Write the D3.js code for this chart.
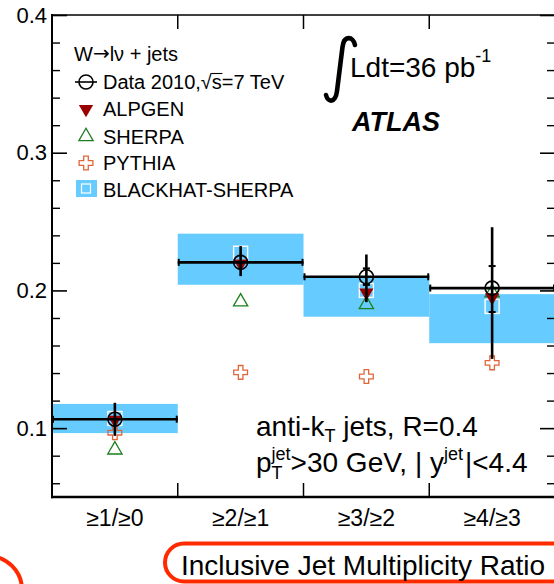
<!DOCTYPE html>
<html>
<head>
<meta charset="utf-8">
<script src="https://cdn.jsdelivr.net/npm/d3@7"></script>
<style>
  body { margin: 0; background: #fff; }
  svg { display: block; }
  text { font-family: "Liberation Sans", Arial, Helvetica, sans-serif; fill: #000; white-space: pre; }
</style>
</head>
<body>
<svg id="chart" width="554" height="584"></svg>
<script>
// Inclusive jet multiplicity ratios, W -> l nu + jets
const categories = ["≥1/≥0", "≥2/≥1", "≥3/≥2", "≥4/≥3"];
const dataValue = [0.1065, 0.2204, 0.2099, 0.2017];
const dataErrHigh = [0.1184, 0.2322, 0.2261, 0.2459];
const dataErrLow = [0.0944, 0.2104, 0.1915, 0.1503];
const dataStatHigh = [null, null, 0.2160, 0.2177];
const dataStatLow = [null, null, 0.2040, 0.1843];
const alpgen = [0.1060, 0.2195, 0.1985, 0.1950];
const sherpa = [0.0842, 0.1917, 0.1898, 0.1984];
const pythia = [0.0967, 0.1405, 0.1375, 0.1474];
const blackhat = [0.1070, 0.2270, 0.2000, 0.1884];
const blackhatLow = [0.0964, 0.2041, 0.1809, 0.1617];
const blackhatHigh = [0.1176, 0.2412, 0.2105, 0.1973];
const yMajorTicks = [0.1, 0.2, 0.3, 0.4];
const legendLabels = ["Data 2010,", "ALPGEN", "SHERPA", "PYTHIA", "BLACKHAT-SHERPA"];

const colors = {
  band: "#66ccff",
  alpgen: "#990000",
  sherpa: "#1d7f1d",
  pythia: "#e0663a",
  red: "#ff2a00"
};

const svg = d3.select("#chart");
const L = 52, R = 555, T = 15, B = 497;

const x = d3.scaleBand().domain(categories).range([L, R]).padding(0);
const y = d3.scaleLinear().domain([0.05, 0.4]).range([B, T]);
const cx = d => x(d) + x.bandwidth() / 2;

// --- BLACKHAT-SHERPA uncertainty bands ---
svg.append("g").selectAll("rect").data(categories).join("rect")
  .attr("x", d => x(d))
  .attr("width", x.bandwidth())
  .attr("y", (d, i) => y(blackhatHigh[i]))
  .attr("height", (d, i) => y(blackhatLow[i]) - y(blackhatHigh[i]))
  .attr("fill", colors.band);

// --- axes (ticks point inward on all four sides) ---
const minorTicks = y.ticks(20).filter(v => !yMajorTicks.some(m => Math.abs(m - v) < 1e-9));

function styleAxis(g, w) {
  g.select(".domain").remove();
  g.selectAll(".tick line").attr("stroke", "#000").attr("stroke-width", w);
}
svg.append("g").attr("transform", `translate(${L},0)`)
  .call(d3.axisLeft(y).tickValues(yMajorTicks).tickSize(-15).tickPadding(5).tickFormat(d3.format(".1f")))
  .call(g => styleAxis(g, 1.6))
  .call(g => g.selectAll("text").attr("font-size", 22));
svg.append("g").attr("transform", `translate(${L},0)`)
  .call(d3.axisLeft(y).tickValues(minorTicks).tickSize(-8).tickFormat(""))
  .call(g => styleAxis(g, 1.4));
svg.append("g").attr("transform", `translate(${R},0)`)
  .call(d3.axisRight(y).tickValues(yMajorTicks).tickSize(-15).tickFormat(""))
  .call(g => styleAxis(g, 1.6));
svg.append("g").attr("transform", `translate(${R},0)`)
  .call(d3.axisRight(y).tickValues(minorTicks).tickSize(-8).tickFormat(""))
  .call(g => styleAxis(g, 1.4));

// bin edge ticks on top and bottom
const edges = categories.slice(1).map(d => x(d));
svg.append("g").selectAll("line").data(edges).join("line")
  .attr("x1", d => d).attr("x2", d => d).attr("y1", B).attr("y2", B - 14)
  .attr("stroke", "#000").attr("stroke-width", 1.5);
svg.append("g").selectAll("line").data(edges).join("line")
  .attr("x1", d => d).attr("x2", d => d).attr("y1", T).attr("y2", T + 14)
  .attr("stroke", "#000").attr("stroke-width", 1.5);

// frame
svg.append("line").attr("x1", L).attr("x2", L).attr("y1", T - 1).attr("y2", B + 1.3).attr("stroke", "#000").attr("stroke-width", 2);
svg.append("line").attr("x1", L - 1).attr("x2", R).attr("y1", B).attr("y2", B).attr("stroke", "#000").attr("stroke-width", 2.6);
svg.append("line").attr("x1", L - 1).attr("x2", R).attr("y1", T).attr("y2", T).attr("stroke", "#000").attr("stroke-width", 1.5);
svg.append("line").attr("x1", R).attr("x2", R).attr("y1", T).attr("y2", B).attr("stroke", "#000").attr("stroke-width", 2);

// category labels
svg.append("g").selectAll("text").data(categories).join("text")
  .attr("x", d => cx(d)).attr("y", 526)
  .attr("text-anchor", "middle").attr("font-size", 23)
  .text(d => d);

// --- markers ---
const triSize = 88, crossSize = 105;
const tri = d3.symbol().type(d3.symbolTriangle).size(triSize);
const cross = d3.symbol().type(d3.symbolCross).size(crossSize);

// BLACKHAT central values (open white squares)
svg.append("g").selectAll("rect").data(categories).join("rect")
  .attr("x", d => cx(d) - 7).attr("y", (d, i) => y(blackhat[i]) - 7)
  .attr("width", 14).attr("height", 14)
  .attr("fill", "none").attr("stroke", "#fff").attr("stroke-width", 1.4);

// PYTHIA open crosses
svg.append("g").selectAll("path").data(categories).join("path")
  .attr("d", cross)
  .attr("transform", (d, i) => `translate(${cx(d)},${y(pythia[i])})`)
  .attr("fill", "none").attr("stroke", colors.pythia).attr("stroke-width", 1.3);

// SHERPA open triangles
svg.append("g").selectAll("path").data(categories).join("path")
  .attr("d", tri)
  .attr("transform", (d, i) => `translate(${cx(d)},${y(sherpa[i])})`)
  .attr("fill", "none").attr("stroke", colors.sherpa).attr("stroke-width", 1.3);

// ALPGEN filled down triangles
svg.append("g").selectAll("path").data(categories).join("path")
  .attr("d", tri)
  .attr("transform", (d, i) => `translate(${cx(d)},${y(alpgen[i])}) rotate(180)`)
  .attr("fill", colors.alpgen);

// Data: bin-width bars, total error bars, statistical ticks, open circles
const dg = svg.append("g").attr("stroke", "#000");
categories.forEach((d, i) => {
  const x0 = x(d), x1 = x(d) + x.bandwidth(), xc = cx(d), yv = y(dataValue[i]);
  dg.append("line").attr("x1", x0).attr("x2", x1).attr("y1", yv).attr("y2", yv).attr("stroke-width", 2.6);
  [x0 + 1, x1 - 1].forEach(xe => dg.append("line").attr("x1", xe).attr("x2", xe)
    .attr("y1", yv - 3.5).attr("y2", yv + 3.5).attr("stroke-width", 2));
  dg.append("line").attr("x1", xc).attr("x2", xc)
    .attr("y1", y(dataErrHigh[i])).attr("y2", y(dataErrLow[i])).attr("stroke-width", 2.6);
  [dataStatHigh[i], dataStatLow[i]].forEach(s => {
    if (s == null) return;
    dg.append("line").attr("x1", xc - 3.5).attr("x2", xc + 3.5)
      .attr("y1", y(s)).attr("y2", y(s)).attr("stroke-width", 2);
  });
  dg.append("circle").attr("cx", xc).attr("cy", yv).attr("r", 7)
    .attr("fill", "none").attr("stroke-width", 1.6);
});

// --- rich text helper: sequential segments with sub/superscripts ---
function richText(parent, x0, y0, segs, baseSize) {
  let cur = x0, stackStart = null, stackWidth = 0;
  segs.forEach(s => {
    const size = s.size || baseSize;
    const start = (s.stack ? stackStart : cur) + (s.dx || 0);
    const t = parent.append("text").attr("x", start).attr("y", y0 + (s.dy || 0))
      .attr("font-size", size).text(s.t);
    if (s.family) t.style("font-family", s.family);
    const w = t.node().getComputedTextLength();
    if (s.stack) {
      cur = stackStart + Math.max(stackWidth, w);
    } else {
      stackStart = start; stackWidth = w;
      cur = start + w;
    }
  });
  return cur;
}

// --- legend ---
const lg = svg.append("g");
richText(lg, 74, 61, [
  { t: "W" }, { t: "→", family: "DejaVu Sans", size: 20, dy: -1 }, { t: "lν + jets" }
], 20);
const lx = 86, rowY = [89, 116, 143.5, 170, 197];
// data entry
lg.append("line").attr("x1", lx - 11).attr("x2", lx + 11).attr("y1", rowY[0] - 7).attr("y2", rowY[0] - 7)
  .attr("stroke", "#000").attr("stroke-width", 1.6);
lg.append("circle").attr("cx", lx).attr("cy", rowY[0] - 7).attr("r", 7)
  .attr("fill", "none").attr("stroke", "#000").attr("stroke-width", 1.6);
const dEnd = richText(lg, 103, rowY[0], [{ t: legendLabels[0] }, { t: "√" }], 20);
const sText = lg.append("text").attr("x", dEnd).attr("y", rowY[0]).attr("font-size", 20).text("s");
const sW = sText.node().getComputedTextLength();
lg.append("line").attr("x1", dEnd - 0.5).attr("x2", dEnd + sW + 0.5)
  .attr("y1", rowY[0] - 15.5).attr("y2", rowY[0] - 15.5).attr("stroke", "#000").attr("stroke-width", 1.1);
lg.append("text").attr("x", dEnd + sW).attr("y", rowY[0]).attr("font-size", 20).text("=7 TeV");
// model entries
lg.append("path").attr("d", tri).attr("transform", `translate(${lx},${rowY[1] - 7}) rotate(180)`).attr("fill", colors.alpgen);
lg.append("path").attr("d", tri).attr("transform", `translate(${lx},${rowY[2] - 7})`)
  .attr("fill", "none").attr("stroke", colors.sherpa).attr("stroke-width", 1.3);
lg.append("path").attr("d", cross).attr("transform", `translate(${lx},${rowY[3] - 7})`)
  .attr("fill", "none").attr("stroke", colors.pythia).attr("stroke-width", 1.3);
lg.append("rect").attr("x", 76).attr("y", rowY[4] - 17).attr("width", 21).attr("height", 17).attr("fill", colors.band);
lg.append("rect").attr("x", lx - 4.5).attr("y", rowY[4] - 13).attr("width", 9).attr("height", 9)
  .attr("fill", "none").attr("stroke", "#fff").attr("stroke-width", 1.2);
legendLabels.slice(1).forEach((t, k) => {
  lg.append("text").attr("x", 103).attr("y", rowY[k + 1]).attr("font-size", 20).text(t);
});

// --- luminosity and experiment label ---
svg.append("path")
  .attr("d", "M355,45 C353,36 344,35 342.5,47 L337,91 C335.5,103 328,103 326,95")
  .attr("fill", "none").attr("stroke", "#000").attr("stroke-width", 4.6).attr("stroke-linecap", "round");
richText(svg, 350, 77, [{ t: "Ldt=36 pb" }, { t: "-1", size: 18, dy: -15 }], 28);
svg.append("text").attr("x", 352).attr("y", 131).attr("font-size", 27)
  .attr("font-weight", "bold").attr("font-style", "italic").text("ATLAS");

// --- selection annotation ---
richText(svg, 256, 436, [
  { t: "anti-k" }, { t: "T", size: 18, dy: 6 }, { t: " jets, R=0.4" }
], 28);
richText(svg, 256, 472, [
  { t: "p" }, { t: "T", size: 18, dy: 7 }, { t: "jet", size: 18, dy: -12, stack: true },
  { t: ">30 GeV, | y" }, { t: "jet", size: 18, dy: -12 }, { t: "|<4.4", dx: 2 }
], 28);

// --- highlighted caption boxes ---
svg.append("rect").attr("x", 165).attr("y", 543.5).attr("width", 440).attr("height", 38)
  .attr("rx", 19).attr("fill", "none").attr("stroke", colors.red).attr("stroke-width", 4);
svg.append("text").attr("x", 181).attr("y", 575).attr("font-size", 28).text("Inclusive Jet Multiplicity Ratio");
svg.append("circle").attr("cx", -12).attr("cy", 590).attr("r", 34)
  .attr("fill", "none").attr("stroke", colors.red).attr("stroke-width", 4);
</script>
</body>
</html>
